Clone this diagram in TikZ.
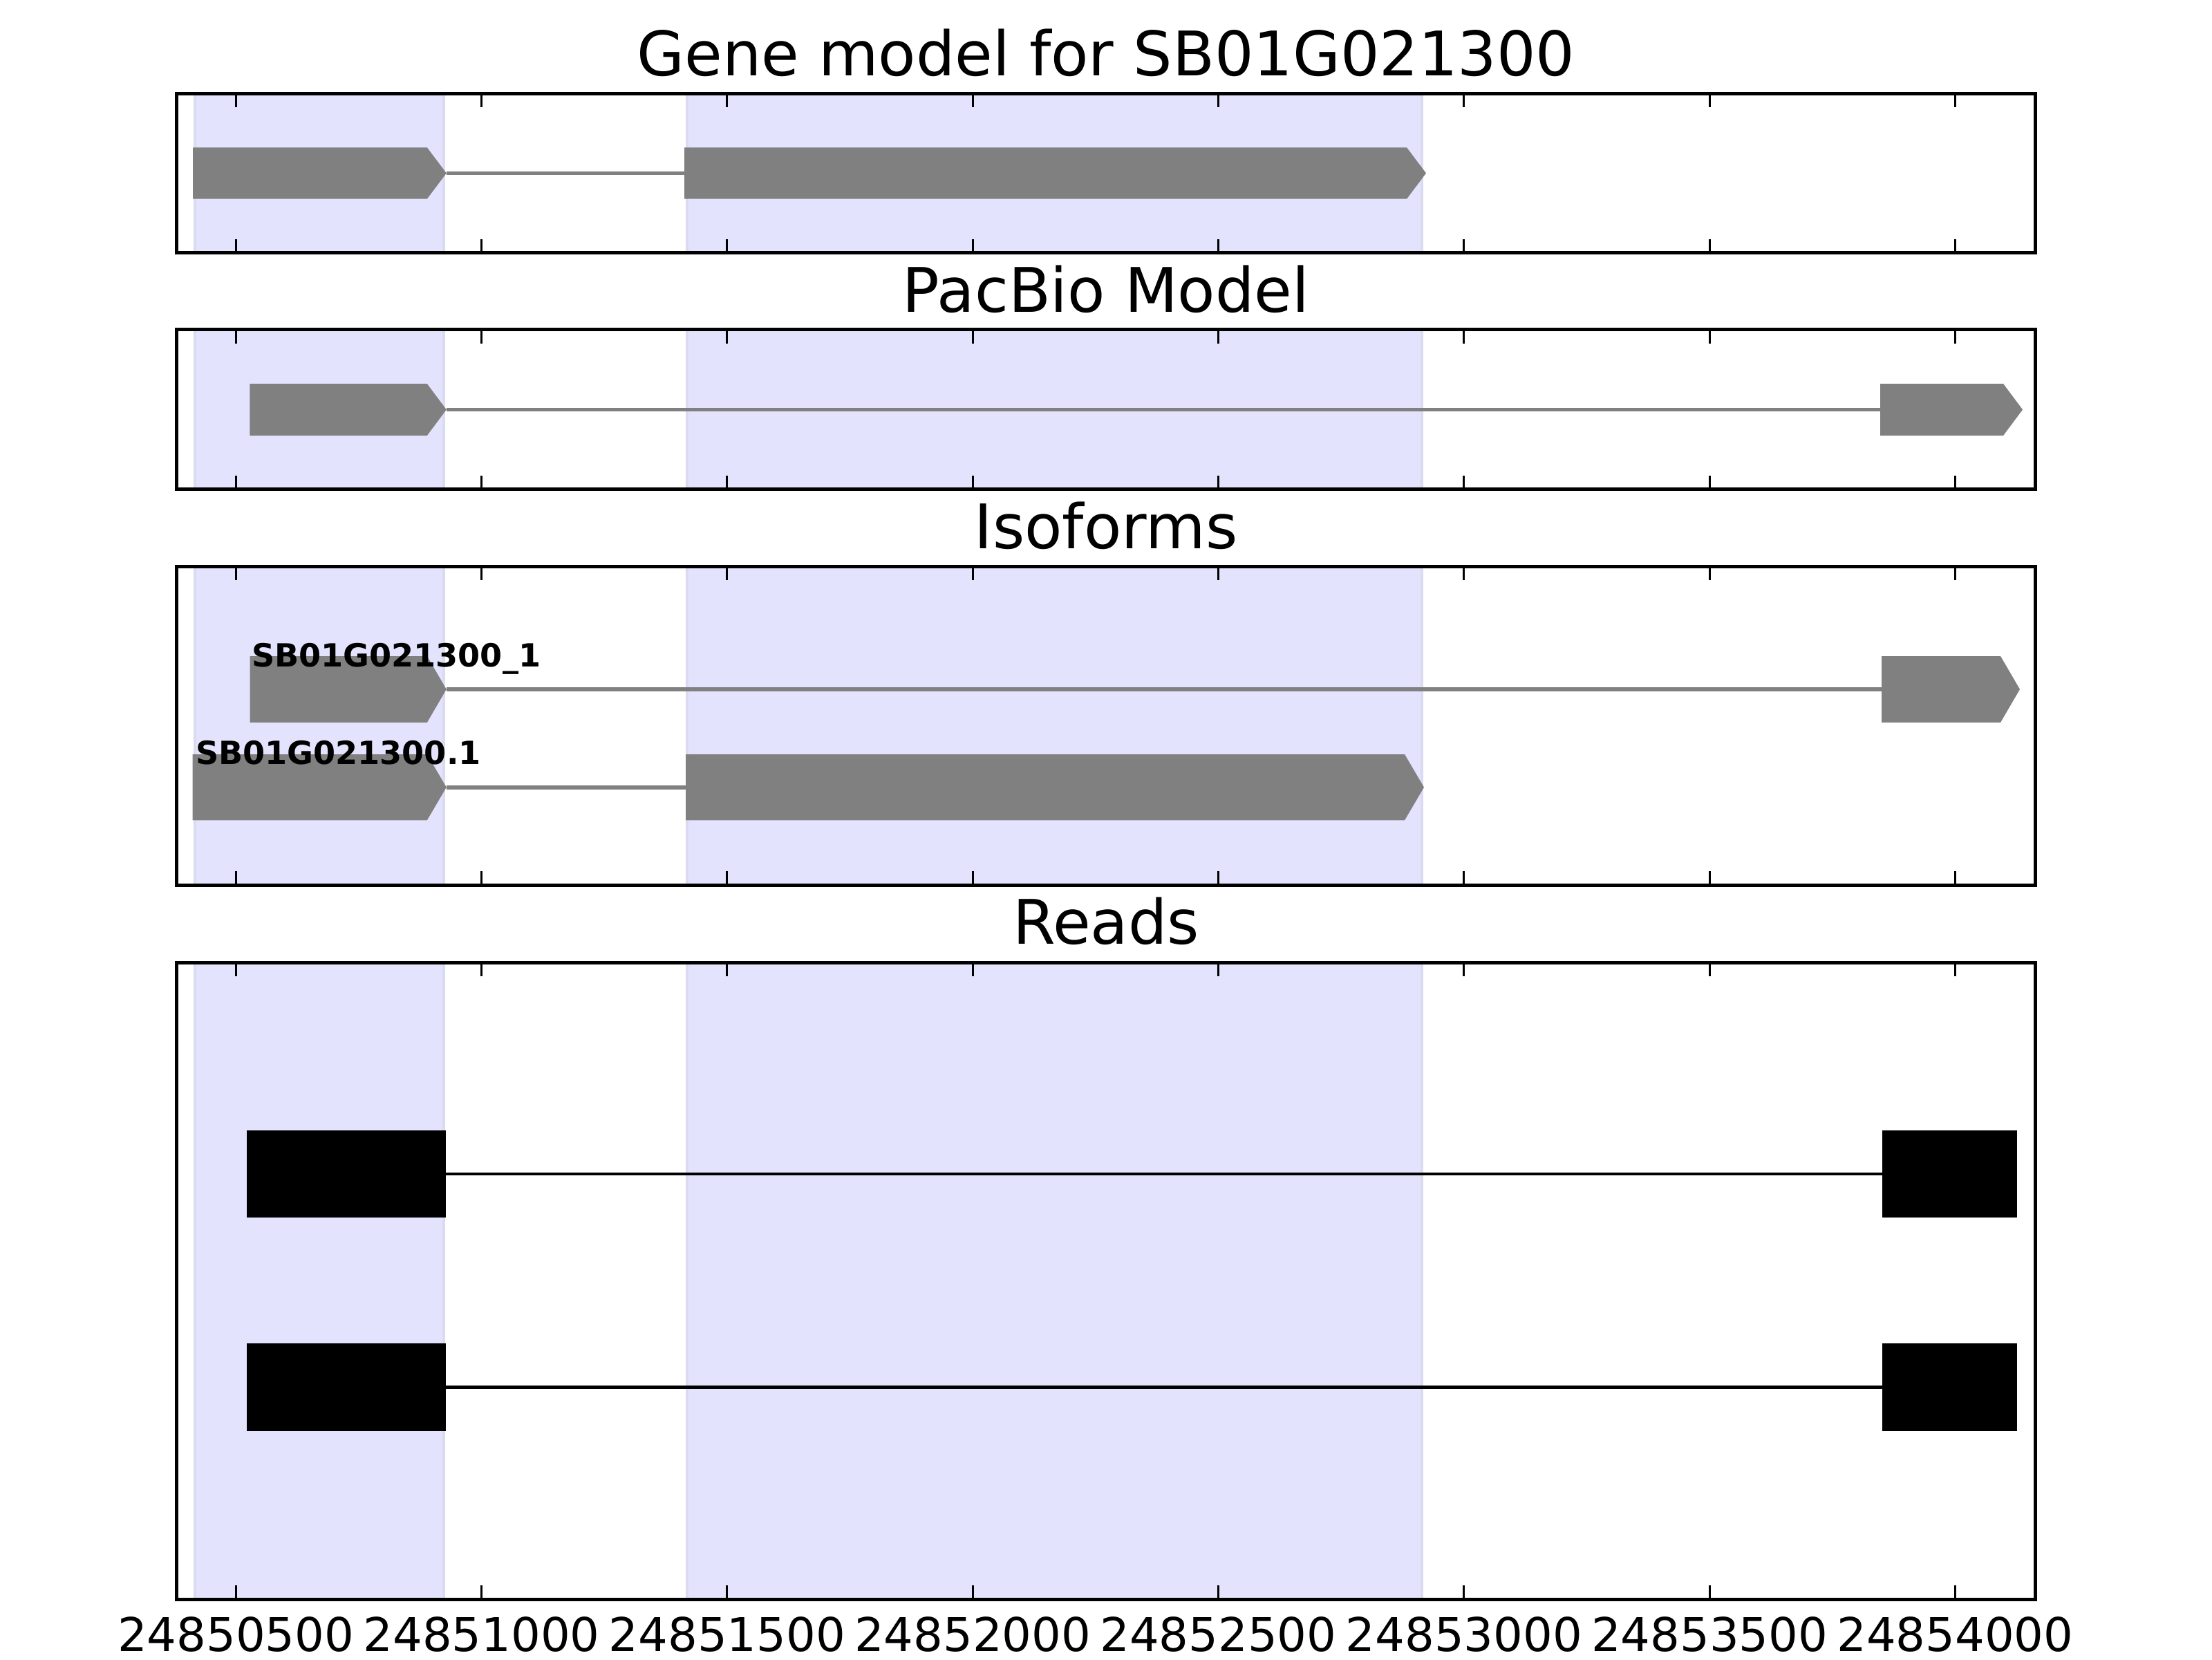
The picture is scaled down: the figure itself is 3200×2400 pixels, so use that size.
\documentclass[tikz,border=0pt]{standalone}
\usepackage{fontspec}
\setmainfont{DejaVu Sans}
\usetikzlibrary{positioning}

\definecolor{spanblue}{RGB}{227,227,253}
\definecolor{spanedge}{RGB}{218,218,240}
\definecolor{exongray}{RGB}{128,128,128}

% exon with arrow head: start, end, middle, half height, name
\newcommand{\exonarrow}[5]{%
  \fill[exongray] (#1,#3-#4) -- (#2-28,#3-#4) -- (#2,#3) -- (#2-28,#3+#4) -- (#1,#3+#4) -- cycle;
  \coordinate (#5-s) at (#1,#3);
  \coordinate (#5-e) at (#2,#3);}
% read block: start, end, middle, half height, name
\newcommand{\readblock}[5]{%
  \fill[black] (#1,#3-#4) rectangle (#2,#3+#4);
  \coordinate (#5-s) at (#1,#3);
  \coordinate (#5-e) at (#2,#3);}

\begin{document}
\begin{tikzpicture}[
    x=0.18pt, y=-0.18pt,
    frame/.style={draw=black, line width=0.9pt},
    span/.style={fill=spanblue, draw=spanedge, line width=0.7pt},
    axtick/.style={draw=black, line width=0.55pt},
    intron/.style={draw=exongray, line width=1pt},
    readline/.style={draw=black, line width=0.8pt},
    paneltitle/.style={anchor=base, inner sep=0pt, font=\fontsize{16}{19}\selectfont},
    ticklabel/.style={anchor=base, inner sep=0pt, font=\fontsize{12.1}{14}\selectfont},
    isolabel/.style={anchor=base west, inner sep=0pt, font=\fontsize{8.3}{10}\selectfont\bfseries},
    ]
    \useasboundingbox (0,0) rectangle (3200,2400);

    % shaded exon regions, ticks and frames of the four panels
    \foreach \ytop/\ybot in {135/365.7, 476.7/707.7, 819/1280, 1392/2313.3} {
        \path[span] (281.7,\ytop) rectangle (642.2,\ybot);
        \path[span] (993.8,\ytop) rectangle (2057,\ybot);
        \foreach \k in {0,...,7} {
            \draw[axtick] (341.3+355.3*\k,\ytop) -- ++(0,20);
            \draw[axtick] (341.3+355.3*\k,\ybot) -- ++(0,-20);
        }
    }

    \node[paneltitle] (gmtitle) at (1600,109) {Gene model for SB01G021300};
    \node[paneltitle] (pbtitle) at (1600,451) {PacBio Model};
    \node[paneltitle] (isotitle) at (1600,793) {Isoforms};
    \node[paneltitle] (rdtitle) at (1600,1365) {Reads};

    % gene model
    \draw[intron] (645.8,250.5) -- (990,250.5);
    \exonarrow{279}{645.8}{250.5}{37.2}{gm1}
    \exonarrow{990}{2063}{250.5}{37.2}{gm2}

    % pacbio model
    \draw[intron] (645.8,592.5) -- (2720,592.5);
    \exonarrow{361.3}{645.8}{592.5}{37.5}{pb1}
    \exonarrow{2720}{2926}{592.5}{37.5}{pb2}

    % isoforms
    \draw[intron] (645.8,997) -- (2722,997);
    \exonarrow{361.6}{645.8}{997}{48}{isa1}
    \exonarrow{2722}{2922}{997}{48}{isa2}
    \draw[intron] (645.8,1138.7) -- (992,1138.7);
    \exonarrow{278.5}{645.8}{1138.7}{47.7}{isb1}
    \exonarrow{992}{2060}{1138.7}{47.7}{isb2}
    \node[isolabel] (isalabel) at (363,964) {SB01G021300\_1};
    \node[isolabel] (isblabel) at (282,1105) {SB01G021300.1};

    % reads
    \readblock{357}{644.5}{1698}{63}{rda1}
    \readblock{2722.5}{2918.4}{1698}{63}{rda2}
    \draw[readline] (rda1-e) -- (rda2-s);
    \readblock{357}{644.5}{2006.5}{63.5}{rdb1}
    \readblock{2722.5}{2918.4}{2006.5}{63.5}{rdb2}
    \draw[readline] (rdb1-e) -- (rdb2-s);

    \foreach \ytop/\ybot in {135/365.7, 476.7/707.7, 819/1280, 1392/2313.3}
        \draw[frame] (255.8,\ytop) rectangle (2944,\ybot);

    \foreach \k/\pos in {0/24850500, 1/24851000, 2/24851500, 3/24852000,
                         4/24852500, 5/24853000, 6/24853500, 7/24854000}
        \node[ticklabel] (tl\k) at (341.3+355.3*\k,2388) {\pos};
\end{tikzpicture}
\end{document}
